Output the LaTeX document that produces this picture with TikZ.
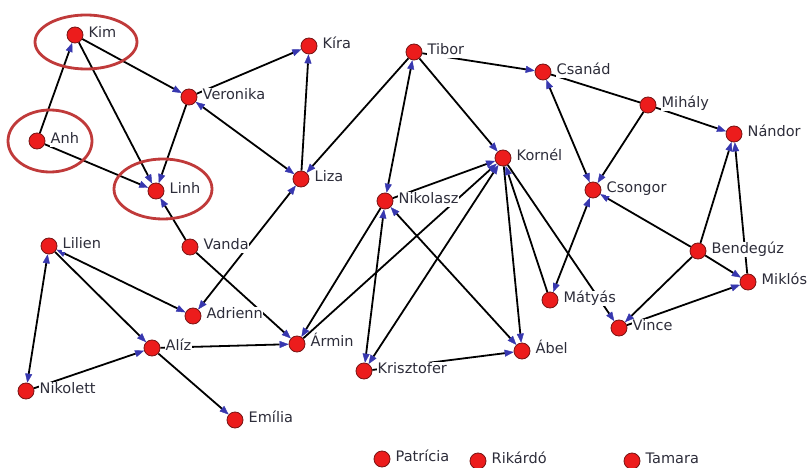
\documentclass[tikz,border=0pt]{standalone}
\usepackage{fontspec}
\setmainfont{DejaVu Sans}
\usetikzlibrary{arrows.meta,backgrounds}

\definecolor{tipblue}{RGB}{55,55,175}
\definecolor{nodered}{RGB}{236,28,28}
\definecolor{noderim}{RGB}{120,20,20}
\definecolor{ringred}{RGB}{192,58,58}
\definecolor{labelgray}{RGB}{45,45,58}

\tikzset{
  person/.style={circle, fill=nodered, draw=noderim, line width=0.8pt,
    minimum size=16pt, inner sep=0pt},
  nametag/.style={anchor=west, fill=white, inner sep=0.5pt, text=labelgray,
    font=\fontsize{14.5}{14.5}\selectfont, text height=10.5pt, text depth=3pt},
  tipend/.tip={Triangle[length=9pt,width=7pt,color=tipblue,line width=0.4pt]},
  link/.style={draw=black, line width=1.8pt, -tipend},
  mutual/.style={draw=black, line width=1.8pt, tipend-tipend},
  bare/.style={draw=black, line width=1.8pt},
  ring/.style={draw=ringred, line width=2.8pt},
}

% a person: dot plus name tag to its right
\newcommand\person[4]{%
  \node[person] (#1) at (#2,#3) {};
  \node[nametag] (#1-tag) at ([shift={(13pt,1.5pt)}]#1.center) {#4};}

\begin{document}
\begin{tikzpicture}[x=1pt,y=-1pt]
\useasboundingbox (0,0) rectangle (809,468);
\clip (0,0) rectangle (809,468);

% people
\person{kim}{75}{35}{Kim}
\person{anh}{37}{141}{Anh}
\person{linh}{156}{191}{Linh}
\person{veronika}{189}{97}{Veronika}
\person{kira}{309}{46}{Kíra}
\person{liza}{301}{179}{Liza}
\person{vanda}{190}{247}{Vanda}
\person{tibor}{414}{52}{Tibor}
\person{csanad}{543}{72}{Csanád}
\person{mihaly}{648}{105}{Mihály}
\person{nandor}{734}{134}{Nándor}
\person{kornel}{503}{158}{Kornél}
\person{nikolasz}{385}{201}{Nikolasz}
\person{csongor}{593}{190}{Csongor}
\person{bendeguz}{698}{251}{Bendegúz}
\person{miklos}{748}{282}{Miklós}
\person{matyas}{550}{300}{Mátyás}
\person{vince}{619}{328}{Vince}
\person{lilien}{49}{246}{Lilien}
\person{adrienn}{193}{316}{Adrienn}
\person{aliz}{152}{348}{Alíz}
\person{armin}{297}{344}{Ármin}
\person{krisztofer}{364}{371}{Krisztofer}
\person{abel}{522}{351}{Ábel}
\person{nikolett}{26}{391}{Nikolett}
\person{emilia}{235}{420}{Emília}
\person{patricia}{382}{459}{Patrícia}
\person{rikardo}{478}{461}{Rikárdó}
\person{tamara}{632}{461}{Tamara}

% links, kept under the dots and name tags
\begin{scope}[on background layer]
  \fill[white] (0,0) rectangle (809,468);
  \draw[link] (anh) -- (kim);
  \draw[link] (anh) -- (linh);
  \draw[link] (kim) -- (linh);
  \draw[link] (kim) -- (veronika);
  \draw[link] (veronika) -- (linh);
  \draw[link] (veronika) -- (kira);
  \draw[link] (liza) -- (kira);
  \draw[mutual] (liza) -- (veronika);
  \draw[link] (vanda) -- (linh);
  \draw[link] (vanda) -- (armin);
  \draw[mutual] (liza) -- (adrienn);
  \draw[mutual] (lilien) -- (adrienn);
  \draw[link] (lilien) -- (aliz);
  \draw[mutual] (lilien) -- (nikolett);
  \draw[link] (nikolett) -- (aliz);
  \draw[link] (aliz) -- (emilia);
  \draw[link] (aliz) -- (armin);
  \draw[link] (tibor) -- (liza);
  \draw[mutual] (tibor) -- (nikolasz);
  \draw[link] (tibor) -- (kornel);
  \draw[link] (tibor) -- (csanad);
  \draw[link] (nikolasz) -- (kornel);
  \draw[link] (nikolasz) -- (armin);
  \draw[link] (armin) -- (kornel);
  \draw[mutual] (krisztofer) -- (kornel);
  \draw[mutual] (krisztofer) -- (nikolasz);
  \draw[mutual] (nikolasz) -- (abel);
  \draw[link] (kornel) -- (abel);
  \draw[link] (matyas) -- (kornel);
  \draw[link] (kornel) -- (vince);
  \draw[link] (krisztofer) -- (abel);
  \draw[mutual] (csanad) -- (csongor);
  \draw[bare] (csanad) -- (mihaly);
  \draw[link] (mihaly) -- (nandor);
  \draw[link] (mihaly) -- (csongor);
  \draw[link] (bendeguz) -- (csongor);
  \draw[link] (bendeguz) -- (nandor);
  \draw[link] (miklos) -- (nandor);
  \draw[link] (bendeguz) -- (miklos);
  \draw[link] (bendeguz) -- (vince);
  \draw[link] (vince) -- (miklos);
  \draw[mutual] (matyas) -- (csongor);
\end{scope}

% highlighted trio
\draw[ring] (86,42) ellipse [x radius=51, y radius=27];
\draw[ring] (50,141) ellipse [x radius=42, y radius=31];
\draw[ring] (163,189) ellipse [x radius=49, y radius=30];
\end{tikzpicture}
\end{document}
